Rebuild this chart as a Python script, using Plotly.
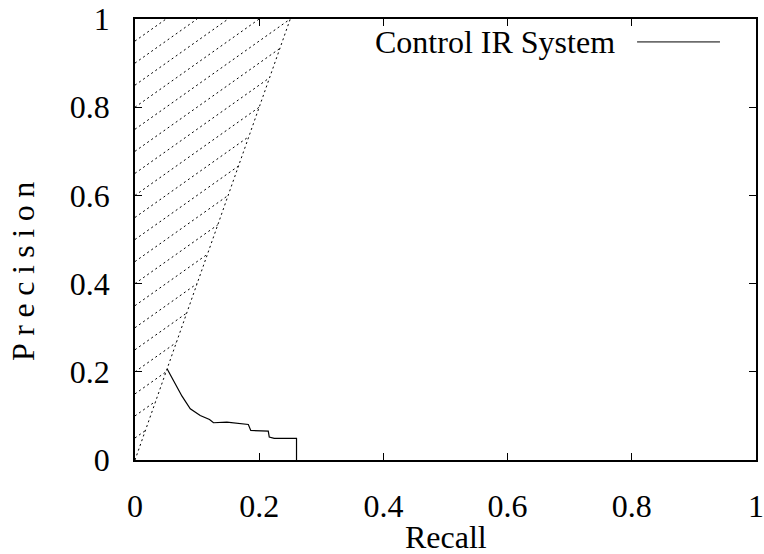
import plotly.graph_objects as go

# ---- data ----
recall = [0.0516, 0.0622, 0.0757, 0.0890, 0.1050, 0.1200, 0.1264, 0.1479,
          0.1825, 0.1864, 0.2146, 0.2162, 0.2242, 0.2601, 0.2601]
precision = [0.2068, 0.1787, 0.1447, 0.1162, 0.1010, 0.0920, 0.0845, 0.0858,
             0.0806, 0.0670, 0.0655, 0.0519, 0.0489, 0.0489, 0.0]

# boundary of hatched region (dotted line)
boundary_recall = [0.0, 0.25]
boundary_precision = [0.0, 1.0]

# hatch lines: precision = recall + offset
hatch_offsets = [0.05, 0.10, 0.15, 0.20, 0.25, 0.30, 0.35, 0.40, 0.45, 0.50,
                 0.55, 0.60, 0.65, 0.70, 0.75, 0.80, 0.85, 0.90, 0.95, 1.00]

tick_vals = [0, 0.2, 0.4, 0.6, 0.8, 1]
tick_text = ["0", "0.2", "0.4", "0.6", "0.8", "1"]

FONT = "Liberation Serif"
FS = 32

fig = go.Figure()

# hatch segments clipped to triangle (0,0)-(0.25,1)-(0,1)
slope = boundary_precision[1] / boundary_recall[1]
hx, hy = [], []
for c in hatch_offsets:
    r_end = min(c / (slope - 1), 1 - c)
    hx += [0.0, r_end, None]
    hy += [c, r_end + c, None]
fig.add_trace(go.Scatter(x=hx, y=hy, mode="lines", showlegend=False,
                         line=dict(color="#000", width=1, dash="2px,3px"),
                         hoverinfo="skip"))
fig.add_trace(go.Scatter(x=boundary_recall, y=boundary_precision, mode="lines",
                         showlegend=False,
                         line=dict(color="#000", width=1, dash="2px,3px"),
                         hoverinfo="skip"))

fig.add_trace(go.Scatter(x=recall, y=precision, mode="lines",
                         name="Control IR System", showlegend=False,
                         line=dict(color="#000", width=1.2)))

axis_common = dict(range=[0, 1], showgrid=False, zeroline=False,
                   showline=True, linecolor="#000", linewidth=1.5,
                   mirror="ticks", ticks="inside", ticklen=7, tickwidth=1,
                   tickcolor="#000", tickvals=tick_vals, ticktext=tick_text,
                   automargin=False, ticklabeloverflow="allow",
                   tickfont=dict(family=FONT, size=FS, color="#000"))

fig.update_xaxes(**axis_common, ticklabelstandoff=17)
fig.update_yaxes(**axis_common, ticklabelstandoff=17)

# legend (gnuplot style: text then line sample)
fig.add_annotation(x=0.7763, y=0.948, xref="paper", yref="paper",
                   text="Control IR System", showarrow=False,
                   xanchor="right", yanchor="middle",
                   font=dict(family=FONT, size=FS, color="#000"))
fig.add_shape(type="line", xref="paper", yref="paper",
              x0=0.8085, x1=0.942, y0=0.948, y1=0.948,
              line=dict(color="#000", width=1))

# axis titles
fig.add_annotation(x=0.5, y=-0.2195, xref="paper", yref="paper",
                   text="Recall", showarrow=False,
                   xanchor="center", yanchor="bottom",
                   font=dict(family=FONT, size=FS, color="#000"))
fig.add_annotation(x=-0.18, y=0.436, xref="paper", yref="paper",
                   text='<span style="letter-spacing:7.5px">Precision</span>',
                   showarrow=False, textangle=-90,
                   xanchor="center", yanchor="middle",
                   font=dict(family=FONT, size=FS, color="#000"))

fig.update_layout(width=764, height=554,
                  margin=dict(l=134.5, r=8, t=19, b=93.5),
                  paper_bgcolor="white", plot_bgcolor="white",
                  showlegend=False)

fig.write_html("out.html")
